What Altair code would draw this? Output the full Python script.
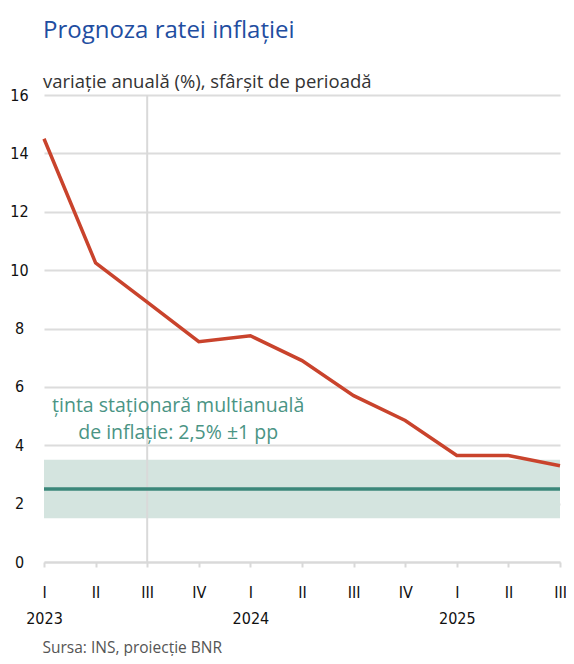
import altair as alt
import pandas as pd
import json

# ---- data ----
quarters = ["I", "II", "III", "IV", "I", "II", "III", "IV", "I", "II", "III"]
years = ["2023", "", "", "", "2024", "", "", "", "2025", "", ""]
inflation = [14.5, 10.25, 8.9, 7.55, 7.75, 6.9, 5.7, 4.85, 3.65, 3.65, 3.3]
target = 2.5
band_lo, band_hi = 1.5, 3.5
forecast_start = [2]
annot_lines = ["ținta staționară multianuală", "de inflație: 2,5% ±1 pp"]
annot_pos = (2.6, 5.35)
y_ticks = list(range(0, 17, 2))

W, H = 516, 467
COND = "Liberation Sans Narrow, DejaVu Sans Condensed, Roboto Condensed, Roboto, sans-serif"
HUM = "Open Sans, Noto Sans, sans-serif"

idx = list(range(len(quarters)))
df = pd.DataFrame({"idx": idx, "v": inflation})
label_arr = json.dumps([[q, y] for q, y in zip(quarters, years)], ensure_ascii=False)

xscale = alt.Scale(domain=[0, len(quarters) - 1], nice=False, zero=False)
yscale = alt.Scale(domain=[0, 16], nice=False)

x_axis = alt.Axis(
    values=idx, labelExpr=f"{label_arr}[datum.value]", grid=False,
    domainColor="#d9d9d9", domainWidth=2, tickColor="#d9d9d9", tickWidth=2, tickSize=5,
    labelFont=COND, labelFontSize=16, labelColor="#111", labelPadding=17,
    labelLineHeight=26, labelBaseline="top", labelFlush=False, labelOverlap=False,
    title="Sursa: INS, proiecție BNR", titleFont=HUM, titleFontSize=15.5,
    titleFontWeight="normal", titleColor="#555", titleAnchor="start", titleAlign="left",
    titleX=-2, titleY=90, titleBaseline="alphabetic",
)
y_axis = alt.Axis(
    values=y_ticks, domain=False, ticks=False, tickSize=0, grid=True,
    gridColor="#dcdcdc", gridWidth=2, labelFont=COND, labelFontSize=16,
    labelColor="#111", labelAlign="center", labelPadding=25, labelBaseline="middle",
    title=None,
)

base = alt.Chart(df)

band = alt.Chart(pd.DataFrame({"x0": [0], "x1": [len(quarters) - 1], "lo": [band_lo], "hi": [band_hi]})).mark_rect(
    color="#d4e4df"
).encode(
    x=alt.X("x0:Q", scale=xscale, axis=x_axis), x2="x1:Q",
    y=alt.Y("lo:Q", scale=yscale, axis=y_axis), y2="hi:Q",
)

vline = alt.Chart(pd.DataFrame({"x": forecast_start})).mark_rule(color="#d9d9d9", strokeWidth=2).encode(
    x=alt.X("x:Q", scale=xscale)
)

tline = alt.Chart(pd.DataFrame({"x0": [0], "x1": [len(quarters) - 1], "y": [target]})).mark_rule(
    color="#3b877a", strokeWidth=3.5
).encode(x=alt.X("x0:Q", scale=xscale), x2="x1:Q", y=alt.Y("y:Q", scale=yscale))

line = base.mark_line(color="#c9432c", strokeWidth=3.5).encode(
    x=alt.X("idx:Q", scale=xscale), y=alt.Y("v:Q", scale=yscale)
)

annot = alt.Chart(pd.DataFrame({"x": [annot_pos[0]], "y": [annot_pos[1]], "t": [annot_lines]})).mark_text(
    font=HUM, fontSize=19.5, color="#4a9484", align="center", baseline="middle", lineHeight=27
).encode(x=alt.X("x:Q", scale=xscale), y=alt.Y("y:Q", scale=yscale), text="t")

chart = alt.layer(band, vline, tline, line, annot).properties(
    width=W, height=H,
    autosize=alt.AutoSizeParams(type="none"),
    padding={"left": 36, "top": 87, "right": 6, "bottom": 94},
    title=alt.TitleParams(
        text="Prognoza ratei inflației", subtitle="variație anuală (%), sfârșit de perioadă",
        anchor="start", frame="group", font=HUM, fontSize=24, fontWeight="normal",
        color="#1f4ea1", subtitleFont=HUM, subtitleFontSize=18.5, subtitleColor="#333",
        subtitlePadding=30, offset=-4, dx=-1,
    ),
).configure_view(stroke=None)

chart.save("out.html", embed_options={"renderer": "svg", "actions": False})
